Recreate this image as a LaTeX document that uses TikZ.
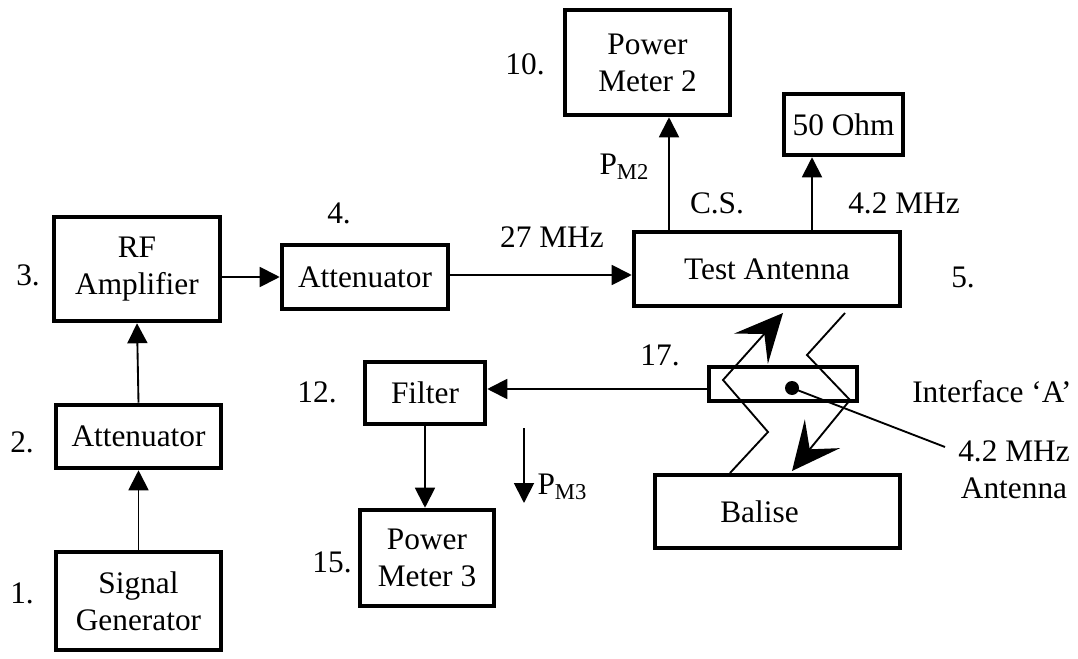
\documentclass[tikz,border=0pt]{standalone}
\usepackage{fontspec}
\setmainfont{Liberation Serif}
\usetikzlibrary{arrows.meta,calc}
\newcommand{\mysub}[1]{\raisebox{-0.15em}{\fontsize{17}{17}\selectfont #1}}
\begin{document}
\begin{tikzpicture}[x=0.75pt,y=-0.75pt,
  every node/.style={font=\fontsize{23.5}{27.75}\selectfont},
  blk/.style={draw,line width=3.4pt,inner sep=0pt,align=center},
  conn/.style={line width=1.4pt,-{Triangle[length=15pt,width=15pt]}},
  wave/.style={line width=1.4pt,-{Stealth[length=36pt,width=34pt,inset=15pt]}},
  lbl/.style={inner sep=0pt,align=center}]
\useasboundingbox (0,0) rectangle (1078,659);

% blocks
\node[blk,minimum width=123.75pt,minimum height=73.5pt] (sg) at (138.5,601) {Signal\\Generator};
\node[blk,minimum width=123.75pt,minimum height=47.25pt] (att2) at (138.5,436.5) {Attenuator};
\node[blk,minimum width=124.5pt,minimum height=78pt] (rf) at (137,269) {RF\\Amplifier};
\node[blk,minimum width=124.5pt,minimum height=48pt] (att4) at (365,277) {Attenuator};
\node[blk,minimum width=199.5pt,minimum height=55.5pt] (ta) at (767,269) {Test Antenna};
\node[blk,minimum width=123.75pt,minimum height=78.75pt] (pm2) at (647.5,62.5) {Power\\Meter 2};
\node[blk,minimum width=89.25pt,minimum height=45.75pt] (ohm) at (843.5,124.5) {50 Ohm};
\node[blk,minimum width=90pt,minimum height=46.5pt] (filter) at (425,393) {Filter};
\node[blk,minimum width=100.5pt,minimum height=72pt] (pm3) at (427,558) {Power\\Meter 3};
\node[blk,minimum width=183.75pt,minimum height=54.75pt] (balise) at (777.5,511.5) {Balise\hspace*{27pt}};
\node[blk,minimum width=111pt,minimum height=25.5pt] (iface) at (783,384) {};
\node[circle,fill,inner sep=0pt,minimum size=10.5pt] (dot) at (792,388) {};

% number labels
\node[lbl] (n1) at (22,593) {1.};
\node[lbl] (n2) at (22,442) {2.};
\node[lbl] (n3) at (28,275) {3.};
\node[lbl] (n4) at (339,213) {4.};
\node[lbl] (n5) at (963,277) {5.};
\node[lbl] (n10) at (525,64) {10.};
\node[lbl] (n12) at (317,392) {12.};
\node[lbl] (n15) at (332,562) {15.};
\node[lbl] (n17) at (660,355) {17.};

% other labels
\node[lbl] (f27) at (552,237) {27 MHz};
\node[lbl] (pm2l) at (624,167) {P\mysub{M2}};
\node[lbl] (cs) at (717,203) {C.S.};
\node[lbl] (f42) at (904,203) {4.2 MHz};
\node[lbl,anchor=west] (ifl) at (912,392) {Interface ‘A’};
\node[lbl] (antl) at (1014,470) {4.2 MHz\\Antenna};
\node[lbl] (pm3l) at (562,487) {P\mysub{M3}};

% helper coordinates
\coordinate (c1) at (669,0);
\coordinate (c2) at (812,0);
\coordinate (c3) at (0,389);
\coordinate (lead) at (945,447);
\coordinate (pa) at (524,428);
\coordinate (pb) at (524,503);

% connectors
\draw[conn] (sg.north) -- (att2.south);
\draw[conn] (att2.north) -- (rf.south);
\draw[conn] (rf.east |- att4.west) -- (att4.west);
\draw[conn] (att4.east |- 0,275) -- (ta.west |- 0,275);
\draw[conn] (ta.north -| c1) -- (pm2.south -| c1);
\draw[conn] (ta.north -| c2) -- (ohm.south -| c2);
\draw[conn] (iface.west |- c3) -- (filter.east |- c3);
\draw[conn] (filter.south) -- (filter.south |- pm3.north);
\draw[conn] (pa) -- (pb);
\draw[line width=1.4pt] (dot.center) -- (lead);

% zigzag coupling arrows
\coordinate (u0) at (730,473);
\coordinate (u1) at (768,432);
\coordinate (u2) at (723,380);
\coordinate (u3) at (783,313);
\coordinate (d0) at (845,313);
\coordinate (d1) at (807,355);
\coordinate (d2) at (850,400);
\coordinate (d3) at (792,471);
\draw[wave] (u0) -- (u1) -- (u2) -- (u3);
\draw[wave] (d0) -- (d1) -- (d2) -- (d3);
\end{tikzpicture}
\end{document}
